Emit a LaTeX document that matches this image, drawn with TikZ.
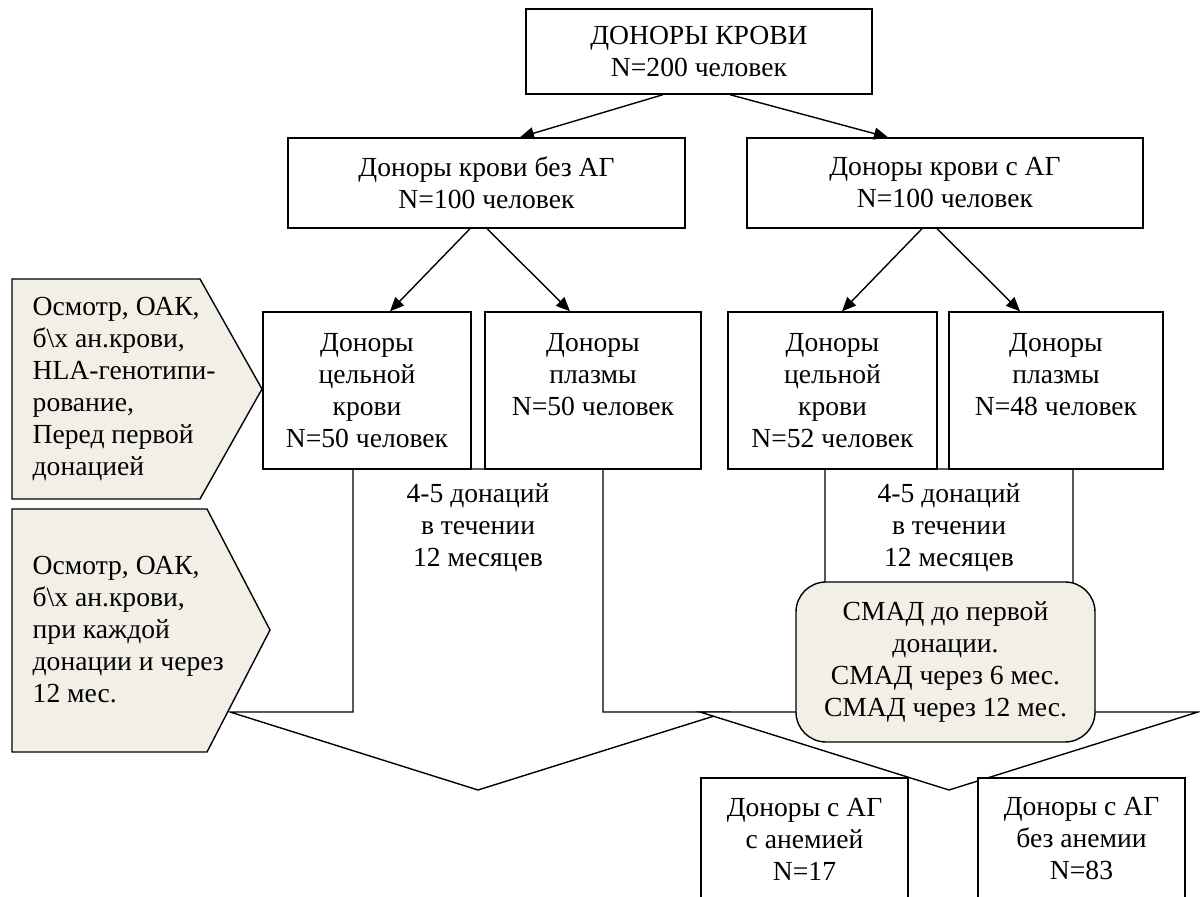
\documentclass[tikz,border=0pt]{standalone}
\usepackage{fontspec}
\setmainfont{Liberation Serif}
\usetikzlibrary{positioning,calc,arrows.meta}
\definecolor{beige}{RGB}{242,240,230}

\begin{document}
\begin{tikzpicture}[
        x=0.5pt, y=-0.5pt, % one unit = one pixel of the reference, y downwards
        line width=0.7pt,
        every node/.style={font=\fontsize{13.8pt}{16pt}\selectfont, align=center, inner sep=0pt},
        box/.style={draw, fill=white},
        note/.style={draw, fill=beige, rounded corners=15pt},
        >={Triangle[length=7pt,width=6pt]}
    ]
    \clip (0,0) rectangle (1200,897);

    % Block arrows (behind the boxes)
    \draw[fill=white] (353,469) -- (603,469) -- (603,712) -- (727,712) -- (478,790) -- (230,712) -- (353,712) -- cycle;
    \draw[fill=white] (825,469) -- (1073,469) -- (1073,712) -- (1198,712) -- (949,790) -- (700,712) -- (825,712) -- cycle;

    % Side labels
    \draw[fill=beige] (12,279) -- (200,279) -- (262,389) -- (200,499) -- (12,499) -- cycle;
    \draw[fill=beige] (12,509) -- (207,509) -- (270,630) -- (207,752) -- (12,752) -- cycle;
    \node[anchor=west, align=left] (exam1) at (32,389) {Осмотр, ОАК,\\б\textbackslash х ан.крови,\\HLA-генотипи-\\рование,\\Перед первой\\донацией};
    \node[anchor=west, align=left] (exam2) at (32,630) {Осмотр, ОАК,\\б\textbackslash х ан.крови,\\при каждой\\донации и через\\12 мес.};

    % Nodes
    \node[box, minimum width=173pt, minimum height=42.5pt] (all) at (699,51.5) {ДОНОРЫ КРОВИ\\N=200 человек};
    \node[box, minimum width=198.5pt, minimum height=45pt] (noag) at (486.5,183) {Доноры крови без АГ\\N=100 человек};
    \node[box, minimum width=198pt, minimum height=45pt] (ag) at (945,183) {Доноры крови с АГ\\N=100 человек};

    \node[box, minimum width=104pt, minimum height=78.5pt] (whole1) at (367,390.5) {Доноры\\цельной\\крови\\N=50 человек};
    \node[box, minimum width=108pt, minimum height=78.5pt] (plasma1) at (593,390.5) {Доноры\\плазмы\\N=50 человек\\\mbox{}};
    \node[box, minimum width=104.5pt, minimum height=78.5pt] (whole2) at (832.5,390.5) {Доноры\\цельной\\крови\\N=52 человек};
    \node[box, minimum width=107pt, minimum height=78.5pt] (plasma2) at (1056,390.5) {Доноры\\плазмы\\N=48 человек\\\mbox{}};

    \node (don1) at (478,528) {4-5 донаций\\в течении\\12 месяцев};
    \node (don2) at (949,528) {4-5 донаций\\в течении\\12 месяцев};

    \node[note, minimum width=149.5pt, minimum height=80pt] (smad) at (945.5,662) {СМАД до первой\\донации.\\СМАД через 6 мес.\\СМАД через 12 мес.};

    \node[box, minimum width=103.5pt, minimum height=61pt] (anem) at (804.5,839) {Доноры с АГ\\с анемией\\N=17};
    \node[box, minimum width=103.5pt, minimum height=61pt] (noanem) at (1081.5,839) {Доноры с АГ\\без анемии\\N=83};

    % Edges
    \draw[->] ($(all.south)+(-36,0)$) -- ($(noag.north)+(33.5,0)$);
    \draw[->] ($(all.south)+(31,0)$) -- ($(ag.north)+(-57,0)$);

    \draw[->] ($(noag.south)+(-16.5,0)$) -- ($(whole1.north)+(23,0)$);
    \draw[->] ($(noag.south)+(0.5,0)$) -- ($(plasma1.north)+(-23,0)$);
    \draw[->] ($(ag.south)+(-23,0)$) -- ($(whole2.north)+(9.5,0)$);
    \draw[->] ($(ag.south)+(-8,0)$) -- ($(plasma2.north)+(-36,0)$);

\end{tikzpicture}
\end{document}
